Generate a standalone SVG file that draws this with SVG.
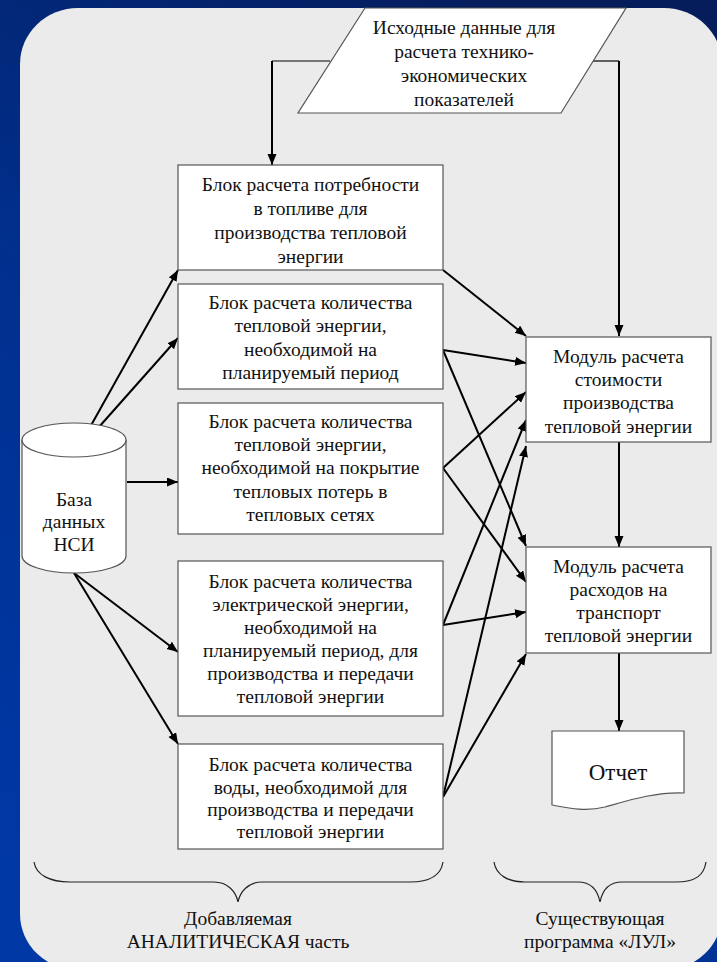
<svg xmlns="http://www.w3.org/2000/svg" width="717" height="962" viewBox="0 0 717 962">
<defs>
<linearGradient id="bg" x1="0.7" y1="0" x2="0.2" y2="1">
<stop offset="0" stop-color="#061d5c"/>
<stop offset="0.5" stop-color="#00308f"/>
<stop offset="1" stop-color="#0038a6"/>
</linearGradient>
<marker id="ah" markerUnits="userSpaceOnUse" markerWidth="12" markerHeight="10" refX="11" refY="4.5" orient="auto">
<path d="M0,0 L11,4.5 L0,9 z" fill="#000"/>
</marker>
<style>
.box{fill:#fff;stroke:#555;stroke-width:1.2}
.t{font-family:'Liberation Serif',serif;font-size:19.5px;fill:#111;text-anchor:middle}
.big{font-size:23px}
.c{fill:none;stroke:#000;stroke-width:2;marker-end:url(#ah)}
.thin{fill:none;stroke:#000;stroke-width:1.2}
.br{fill:none;stroke:#222;stroke-width:1.2}
</style>
</defs>
<rect x="0" y="0" width="717" height="962" fill="url(#bg)"/>
<rect x="20" y="8" width="702" height="962" rx="58" ry="56" fill="#ebebeb"/>

<g id="connectors">
<path class="thin" d="M330,61 H272"/>
<path class="c" d="M272,61 V165"/>
<path class="thin" d="M593,61 H619"/>
<path class="c" d="M619,61 V336"/>
<path class="c" d="M75,454 L178,270"/>
<path class="c" d="M75,454 L178,338"/>
<path class="c" d="M127,482 L178,482"/>
<path class="c" d="M74,573 L178,652"/>
<path class="c" d="M74,573 L178,744"/>
<path class="c" d="M443,270 L526,336"/>
<path class="c" d="M443,350 L526,363"/>
<path class="c" d="M443,350 L526,546"/>
<path class="c" d="M443,468 L526,392"/>
<path class="c" d="M443,468 L526,582"/>
<path class="c" d="M443,625 L526,420"/>
<path class="c" d="M443,625 L526,612"/>
<path class="c" d="M443,797 L526,446"/>
<path class="c" d="M443,797 L526,654"/>
<path class="c" d="M619,442 V547"/>
<path class="c" d="M619,653 V731"/>
</g>

<g id="input">
<path class="box" d="M365,8 H626 L561,113 H298 Z"/>
<text class="t" x="464" y="34">Исходные данные для</text>
<text class="t" x="464" y="58">расчета технико-</text>
<text class="t" x="464" y="82">экономических</text>
<text class="t" x="464" y="106">показателей</text>
</g>

<g id="block1">
<rect class="box" x="178" y="165" width="265" height="105"/>
<text class="t" x="310.5" y="191">Блок расчета потребности</text>
<text class="t" x="310.5" y="215">в топливе для</text>
<text class="t" x="310.5" y="239">производства тепловой</text>
<text class="t" x="310.5" y="263">энергии</text>
</g>

<g id="block2">
<rect class="box" x="178" y="284" width="265" height="105"/>
<text class="t" x="310.5" y="309">Блок расчета количества</text>
<text class="t" x="310.5" y="332">тепловой энергии,</text>
<text class="t" x="310.5" y="356">необходимой на</text>
<text class="t" x="310.5" y="379">планируемый период</text>
</g>

<g id="block3">
<rect class="box" x="178" y="403" width="265" height="131"/>
<text class="t" x="310.5" y="428">Блок расчета количества</text>
<text class="t" x="310.5" y="451">тепловой энергии,</text>
<text class="t" x="310.5" y="474">необходимой на покрытие</text>
<text class="t" x="310.5" y="498">тепловых потерь в</text>
<text class="t" x="310.5" y="521">тепловых сетях</text>
</g>

<g id="block4">
<rect class="box" x="178" y="561" width="265" height="155"/>
<text class="t" x="310.5" y="588">Блок расчета количества</text>
<text class="t" x="310.5" y="611">электрической энергии,</text>
<text class="t" x="310.5" y="634">необходимой на</text>
<text class="t" x="310.5" y="657">планируемый период, для</text>
<text class="t" x="310.5" y="680">производства и передачи</text>
<text class="t" x="310.5" y="703">тепловой энергии</text>
</g>

<g id="block5">
<rect class="box" x="178" y="744" width="265" height="105"/>
<text class="t" x="310.5" y="771">Блок расчета количества</text>
<text class="t" x="310.5" y="794">воды, необходимой для</text>
<text class="t" x="310.5" y="816">производства и передачи</text>
<text class="t" x="310.5" y="838">тепловой энергии</text>
</g>

<g id="db">
<path class="box" d="M22,440 V556 A52,17 0 0 0 126,556 V440"/>
<ellipse class="box" cx="74" cy="440" rx="52" ry="17"/>
<text class="t" x="74" y="506">База</text>
<text class="t" x="74" y="528">данных</text>
<text class="t" x="74" y="551">НСИ</text>
</g>

<g id="module1">
<rect class="box" x="526" y="337" width="185" height="105"/>
<text class="t" x="618.5" y="363">Модуль расчета</text>
<text class="t" x="618.5" y="386">стоимости</text>
<text class="t" x="618.5" y="409">производства</text>
<text class="t" x="618.5" y="433">тепловой энергии</text>
</g>

<g id="module2">
<rect class="box" x="526" y="547" width="185" height="106"/>
<text class="t" x="618.5" y="573">Модуль расчета</text>
<text class="t" x="618.5" y="596">расходов на</text>
<text class="t" x="618.5" y="619">транспорт</text>
<text class="t" x="618.5" y="642">тепловой энергии</text>
</g>

<g id="report">
<path class="box" d="M552,731 H684 V793 C655,792 630,800 605,807 C585,812 568,808 552,805 Z"/>
<text class="t big" x="618" y="780">Отчет</text>
</g>

<g id="brace-left">
<path class="br" d="M34,862 C36,875 50,882 70,882 H214 C228,882 236,892 238,902 C240,892 248,882 262,882 H410 C430,882 441,875 443,862"/>
<text class="t" x="238" y="925">Добавляемая</text>
<text class="t" x="238" y="948">АНАЛИТИЧЕСКАЯ часть</text>
</g>

<g id="brace-right">
<path class="br" d="M494,862 C496,875 508,882 525,882 H578 C592,882 598,892 600,902 C602,892 608,882 622,882 H676 C696,882 704,875 706,862"/>
<text class="t" x="600" y="925">Существующая</text>
<text class="t" x="600" y="948">программа «ЛУЛ»</text>
</g>
</svg>
